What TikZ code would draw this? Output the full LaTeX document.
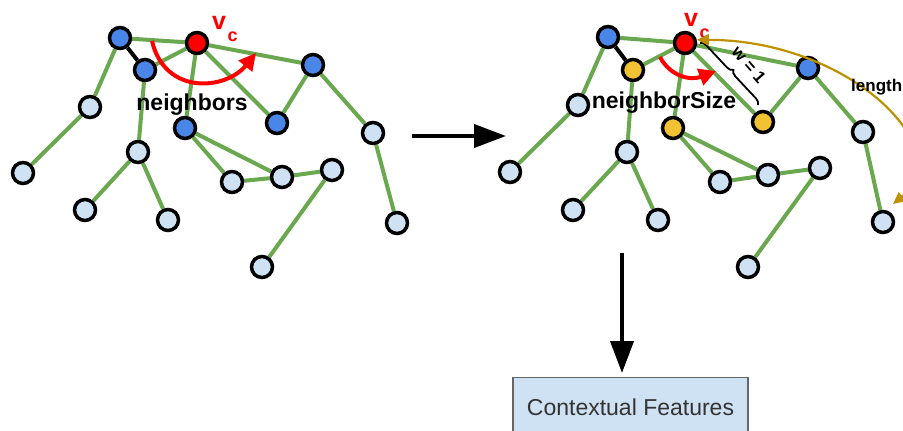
\documentclass[tikz,border=0pt]{standalone}
\usepackage{fontspec}
\setmainfont{Liberation Sans}
\usetikzlibrary{arrows.meta,backgrounds,decorations.pathreplacing}

\definecolor{edgegreen}{HTML}{6AA84F}
\definecolor{nodeblue}{HTML}{4A86E8}
\definecolor{nodelight}{HTML}{CFE2F3}
\definecolor{nodered}{HTML}{FF0000}
\definecolor{nodeorange}{HTML}{F1C232}
\definecolor{lengthgold}{HTML}{BF9000}
\definecolor{boxedge}{HTML}{666666}
\definecolor{boxtext}{HTML}{333333}

% edges of one copy of the graph, nodes named with prefix #1
\newcommand{\graphedges}[1]{%
  \draw[treeedge] (#1a) -- (#1vc);
  \draw[linkedge] (#1a) -- (#1b);
  \draw[treeedge] (#1a) -- (#1f);
  \draw[treeedge] (#1f) -- (#1g);
  \draw[treeedge] (#1b) -- (#1h);
  \draw[treeedge] (#1b) -- (#1vc);
  \draw[treeedge] (#1vc) -- (#1d);
  \draw[treeedge] (#1vc) -- (#1e);
  \draw[treeedge] (#1vc) -- (#1c);
  \draw[treeedge] (#1c) -- (#1e);
  \draw[treeedge] (#1c) -- (#1n);
  \draw[treeedge] (#1n) -- (#1o);
  \draw[treeedge] (#1d) -- (#1k);
  \draw[treeedge] (#1d) -- (#1l);
  \draw[treeedge] (#1k) -- (#1l);
  \draw[treeedge] (#1l) -- (#1m);
  \draw[treeedge] (#1m) -- (#1p);
  \draw[treeedge] (#1h) -- (#1i);
  \draw[treeedge] (#1h) -- (#1j);
}

% v with subscript c
\newcommand{\vclabel}{%
  \fontsize{25}{25}\selectfont v\hspace{1.5pt}\raisebox{-12pt}{\fontsize{18}{18}\selectfont c}}

\begin{document}
\begin{tikzpicture}[x=1pt,y=-1pt,
  vtx/.style={circle, draw=black, line width=3.5pt, minimum size=21pt, inner sep=0pt},
  treeedge/.style={draw=edgegreen, line width=4pt},
  linkedge/.style={draw=black, line width=4pt},
  sweep/.style={draw=nodered, line width=4pt, -{Triangle[length=17pt,width=17pt]}},
  vcname/.style={text=nodered, font=\bfseries, inner sep=0pt, anchor=base west},
  annot/.style={font=\fontsize{23}{23}\selectfont\bfseries, inner sep=0pt, anchor=base},
  smallannot/.style={font=\fontsize{17}{17}\selectfont\bfseries, inner sep=0pt},
  bracemark/.style={draw=black, line width=1.8pt, decorate, decoration={brace, amplitude=6pt}},
  lengtharrow/.style={draw=lengthgold, line width=2.2pt,
    {Triangle[length=12pt,width=11pt]}-{Triangle[length=12pt,width=11pt]}},
  bigarrow/.style={draw=black, line width=4pt, -{Triangle[length=32pt,width=23pt]}},
  featbox/.style={draw=boxedge, line width=1.2pt, fill=nodelight, text=boxtext,
    minimum width=235pt, minimum height=60pt, inner sep=0pt,
    font=\fontsize{23}{23}\selectfont}
]
\useasboundingbox (0,0) rectangle (903,431);
\clip (0,0) rectangle (903,431);

% ---------- left graph ----------
\node[vtx, fill=nodeblue]  (La)  at (120,38)  {};
\node[vtx, fill=nodered]   (Lvc) at (197,43)  {};
\node[vtx, fill=nodeblue]  (Lb)  at (145,70)  {};
\node[vtx, fill=nodeblue]  (Lc)  at (313,65)  {};
\node[vtx, fill=nodeblue]  (Ld)  at (185,128) {};
\node[vtx, fill=nodeblue]  (Le)  at (277,123) {};
\node[vtx, fill=nodelight] (Lf)  at (90,107)  {};
\node[vtx, fill=nodelight] (Lg)  at (23,173)  {};
\node[vtx, fill=nodelight] (Lh)  at (138,152) {};
\node[vtx, fill=nodelight] (Li)  at (85,210)  {};
\node[vtx, fill=nodelight] (Lj)  at (168,220) {};
\node[vtx, fill=nodelight] (Lk)  at (232,182) {};
\node[vtx, fill=nodelight] (Ll)  at (282,177) {};
\node[vtx, fill=nodelight] (Lm)  at (332,170) {};
\node[vtx, fill=nodelight] (Ln)  at (373,133) {};
\node[vtx, fill=nodelight] (Lo)  at (397,223) {};
\node[vtx, fill=nodelight] (Lp)  at (262,267) {};
\begin{scope}[on background layer]
  \graphedges{L}
\end{scope}

\node[vcname] (Lvctext) at (212,29) {\vclabel};
\node[annot] (Lneigh) at (192,110) {neighbors};
\coordinate (Lsweep0) at (152,41);
\coordinate (Lsweep1) at (256,53);
\draw[sweep] (Lsweep0) .. controls (165,96) and (226,90) .. (Lsweep1);

% ---------- transition arrow ----------
\coordinate (flowL) at (412,136);
\coordinate (flowR) at (506,136);
\draw[bigarrow] (flowL) -- (flowR);

% ---------- right graph ----------
\node[vtx, fill=nodeblue]   (Ra)  at (608,37)  {};
\node[vtx, fill=nodered]    (Rvc) at (685,43)  {};
\node[vtx, fill=nodeorange] (Rb)  at (633,70)  {};
\node[vtx, fill=nodeblue]   (Rc)  at (808,68)  {};
\node[vtx, fill=nodeorange] (Rd)  at (673,128) {};
\node[vtx, fill=nodeorange] (Re)  at (763,122) {};
\node[vtx, fill=nodelight]  (Rf)  at (578,105) {};
\node[vtx, fill=nodelight]  (Rg)  at (510,172) {};
\node[vtx, fill=nodelight]  (Rh)  at (627,152) {};
\node[vtx, fill=nodelight]  (Ri)  at (573,210) {};
\node[vtx, fill=nodelight]  (Rj)  at (658,220) {};
\node[vtx, fill=nodelight]  (Rk)  at (720,182) {};
\node[vtx, fill=nodelight]  (Rl)  at (768,175) {};
\node[vtx, fill=nodelight]  (Rm)  at (820,168) {};
\node[vtx, fill=nodelight]  (Rn)  at (863,132) {};
\node[vtx, fill=nodelight]  (Ro)  at (883,222) {};
\node[vtx, fill=nodelight]  (Rp)  at (748,267) {};
\begin{scope}[on background layer]
  \graphedges{R}
\end{scope}

\node[vcname] (Rvctext) at (684,27) {\vclabel};
\node[annot] (Rneigh) at (664,108) {neighborSize};
\coordinate (Rsweep0) at (660,57);
\coordinate (Rsweep1) at (716,71);
\draw[sweep] (Rsweep0) .. controls (670,76) and (690,81) .. (Rsweep1);

% window width brace along the edge vc -- e
\coordinate (brace0) at (700,43);
\coordinate (brace1) at (758,105);
\draw[bracemark] (brace0) -- (brace1);
\node[smallannot, rotate=-49] (wlabel) at (749,65) {w = 1};

% walk length
\coordinate (lenEnd) at (893,204);
\draw[lengtharrow] (Rvc.15) .. controls (850,40) and (960,150) .. (lenEnd);
\node[smallannot, anchor=base west] (lenlabel) at (851,91) {length};

% ---------- output ----------
\node[featbox, anchor=north] (feat) at (630.5,377) {Contextual Features};
\coordinate (flowTop) at (622,253);
\draw[bigarrow, shorten >=4pt] (flowTop) -- (flowTop |- feat.north);
\end{tikzpicture}
\end{document}
